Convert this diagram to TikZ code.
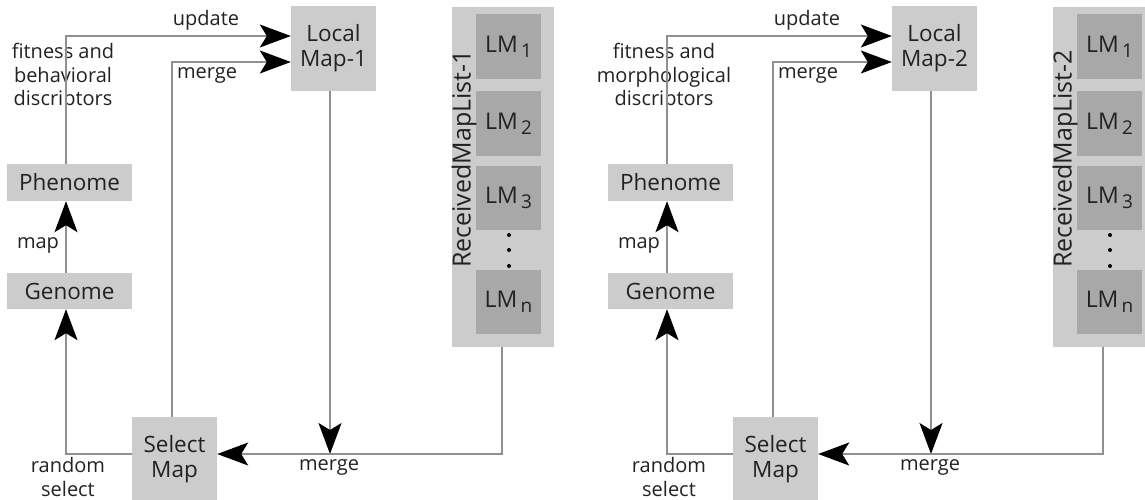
\documentclass[tikz,border=0pt]{standalone}
\usepackage{fontspec}
\setmainfont{Open Sans}
\usetikzlibrary{arrows.meta,calc}
\definecolor{boxgray}{HTML}{CCCCCC}
\definecolor{lmgray}{HTML}{A8A8A8}
\definecolor{linegray}{HTML}{909090}
\definecolor{txt}{HTML}{222222}
\newcommand{\lmsub}[1]{LM\raisebox{-0.4ex}{\fontsize{19}{19}\selectfont\,#1}}
\tikzset{
  box/.style={fill=boxgray, draw=none, inner sep=0pt, text=txt, align=center,
    font=\fontsize{22.5}{25}\selectfont},
  lmbox/.style={fill=lmgray, draw=none, inner sep=0pt, text=txt,
    minimum width=65pt, font=\fontsize{23}{25}\selectfont},
  lbl/.style={text=txt, inner sep=0pt, align=center, font=\fontsize{20}{23.5}\selectfont},
  conn/.style={draw=linegray, line width=1.3pt},
  arr/.style={conn, -{Stealth[length=31pt,width=23pt,inset=7pt,color=black]}},
  dot/.style={circle, fill=black, inner sep=0pt, minimum size=4pt}
}
\newcommand{\diagram}[4]{%
  \node[box, minimum width=85pt, minimum height=85pt] (lm#1) at (333.5,48.5) {Local\\Map-#2};
  \node[box, minimum width=125pt, minimum height=37pt] (phen#1) at (69.5,182.5) {Phenome};
  \node[box, minimum width=125pt, minimum height=36pt] (gen#1) at (69.5,291) {Genome};
  \node[box, minimum width=85pt, minimum height=85pt] (sel#1) at (174.5,459.5) {Select\\Map};
  \node[box, minimum width=102pt, minimum height=340pt] (rml#1) at (503,177) {};
  \node[lmbox, minimum height=65pt] (lma#1) at (508.5,46.5) {\lmsub{1}};
  \node[lmbox, minimum height=65pt] (lmb#1) at (508.5,123.5) {\lmsub{2}};
  \node[lmbox, minimum height=64pt] (lmc#1) at (508.5,198) {\lmsub{3}};
  \node[lmbox, minimum height=64pt] (lmn#1) at (508.5,302) {\lmsub{n}};
  \node[dot] (da#1) at (509,235) {};
  \node[dot] (db#1) at (509,250) {};
  \node[dot] (dc#1) at (509,266) {};
  \node[lbl, rotate=90, font=\fontsize{25}{26}\selectfont] (rmlt#1) at (464,159) {ReceivedMapList-#2};
  \node[lbl] (tupd#1) at (206,20) {update};
  \node[lbl] (tmrg#1) at (207,75) {merge};
  \node[lbl] (tdesc#1) at (63,77) {fitness and\\#3\\discriptors};
  \node[lbl] (tmap#1) at (38,245) {map};
  \node[lbl] (trnd#1) at (68,477) {random\\select};
  \node[lbl] (tmrgb#1) at (329,467) {merge};
  \coordinate (mp#1) at (330,454);
  \draw[arr] ([xshift=-3.5pt]phen#1.north) |- ([yshift=12.5pt]lm#1.west);
  \draw[arr] ([xshift=-2.5pt]sel#1.north) |- ([yshift=-13.5pt]lm#1.west);
  \draw[arr] ([xshift=-3.5pt]lm#1.south) -- (mp#1);
  \draw[arr] ([xshift=-1pt]rml#1.south) |- ([yshift=5.5pt]sel#1.east);
  \draw[arr] ([yshift=5.5pt]sel#1.west) -| ([xshift=-3.5pt]gen#1.south);
  \draw[arr] ([xshift=-3.5pt]gen#1.north) -- ([xshift=-3.5pt]phen#1.south);
}
\begin{document}
\begin{tikzpicture}[x=1pt,y=-1pt]
  \useasboundingbox (0,0) rectangle (1145,499);
  \clip (0,0) rectangle (1145,499);
  \diagram{1}{1}{behavioral}{1}
  \begin{scope}[xshift=601pt]
    \diagram{2}{2}{morphological}{2}
  \end{scope}
\end{tikzpicture}
\end{document}
